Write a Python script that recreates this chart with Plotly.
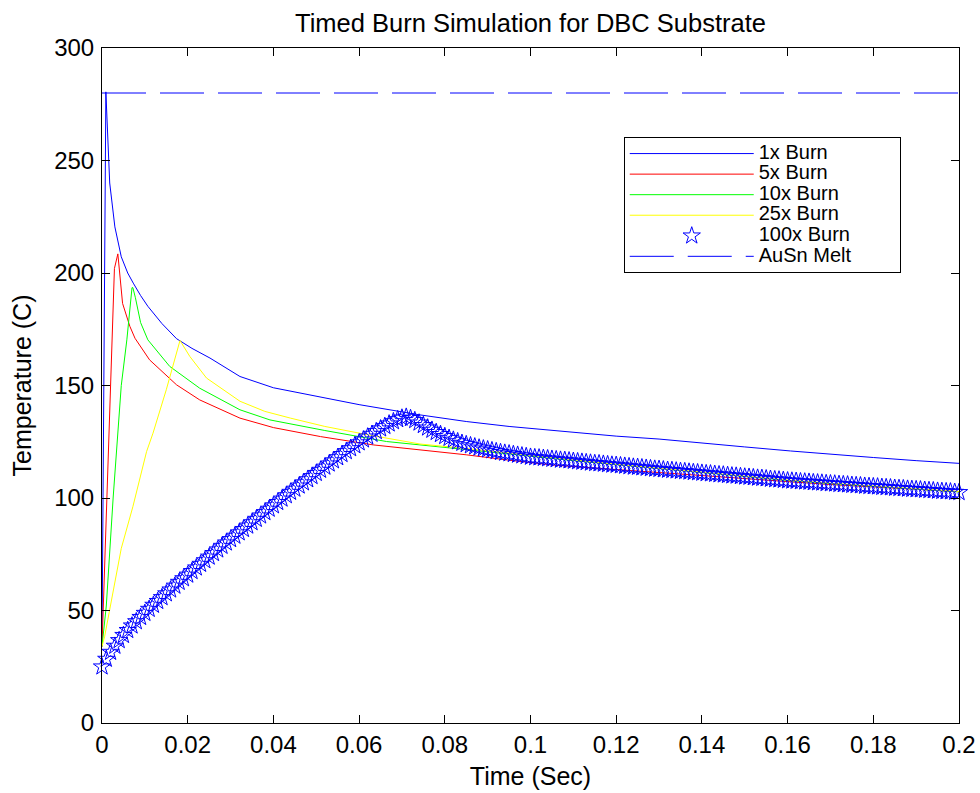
import numpy as np
import plotly.graph_objects as go

# ---------------- data ----------------
t_1x = [0, 0.0009, 0.0018, 0.003, 0.0045, 0.006, 0.0073, 0.009, 0.0107, 0.014, 0.0174,
        0.021, 0.0252, 0.0322, 0.040, 0.051, 0.060, 0.074, 0.085, 0.095, 0.1085, 0.12,
        0.13, 0.14, 0.15, 0.1607, 0.17, 0.18, 0.19, 0.2]
T_1x = [34, 280.5, 240, 220.5, 207.2, 200, 195.5, 190, 185.2, 177.5, 170.8,
        166.5, 162.2, 154, 149, 144.8, 141.5, 137, 134, 131.8, 129.5, 127.5,
        126.2, 124.6, 122.7, 120.9, 119.4, 118, 116.6, 115.4]

t_5x = [0, 0.0026, 0.0029, 0.0037, 0.0048, 0.0065, 0.0077, 0.0111, 0.0174, 0.0228,
        0.0322, 0.040, 0.051, 0.0633, 0.0742, 0.085, 0.095, 0.105, 0.11, 0.12, 0.13,
        0.14, 0.15, 0.16, 0.17, 0.18, 0.19, 0.2]
T_5x = [34, 190, 202, 208.5, 186.5, 176.3, 171, 161.4, 150.3, 143.6,
        135.5, 131.3, 127.3, 123.6, 121.4, 119.2, 116.8, 114.7, 114.0, 112.6, 111.2,
        109.9, 108.7, 107.3, 106.0, 104.9, 103.8, 102.8]

t_10x = [0, 0.001, 0.0026, 0.0045, 0.0058, 0.007, 0.0072, 0.0078, 0.009, 0.0107, 0.0158,
         0.0228, 0.0322, 0.0392, 0.052, 0.0664, 0.0742, 0.085, 0.09, 0.1, 0.11, 0.12,
         0.13, 0.14, 0.15, 0.16, 0.17, 0.18, 0.19, 0.2]
T_10x = [34, 52, 100, 150, 170.3, 193.5, 193.5, 189, 178, 170.3, 158.5,
         148.8, 139.2, 134.7, 130, 125.1, 123.6, 121.6, 120.7, 118.6, 116.6, 114.8,
         113.0, 111.2, 109.5, 107.8, 106.4, 105.1, 103.9, 102.7]

t_25x = [0, 0.0006, 0.0045, 0.0072, 0.0104, 0.0119, 0.015, 0.0182, 0.0205, 0.0244,
         0.0322, 0.038, 0.044, 0.052, 0.062, 0.0742, 0.085, 0.09, 0.1, 0.11, 0.12,
         0.13, 0.14, 0.15, 0.16, 0.17, 0.18, 0.19, 0.2]
T_25x = [34, 38.3, 77.6, 96.1, 120.6, 128.8, 148.1, 170, 162.9, 153.3,
         143, 138.5, 135.5, 131.8, 128.1, 124, 122, 121, 118.9, 116.8, 115.0,
         113.2, 111.4, 109.7, 108.0, 106.6, 105.3, 104.1, 102.9]

# 100x burn sampled every 1 ms from 0 to 0.2 s
t_100x = np.round(np.arange(201) * 0.001, 3)
T_100x = [
    25.0, 28.4, 31.5, 34.2, 36.7, 39.0, 41.2, 43.2, 45.1, 47.0,
    48.8, 50.6, 52.4, 54.1, 55.8, 57.5, 59.2, 60.9, 62.6, 64.2,
    65.8, 67.4, 69.0, 70.6, 72.2, 73.8, 75.4, 77.0, 78.6, 80.1,
    81.6, 83.1, 84.6, 86.1, 87.6, 89.1, 90.6, 92.1, 93.6, 95.1,
    96.6, 98.1, 99.6, 101.1, 102.6, 104.0, 105.4, 106.8, 108.2, 109.6,
    111.0, 112.4, 113.8, 115.2, 116.6, 118.0, 119.4, 120.7, 122.0, 123.3,
    124.6, 125.9, 127.2, 128.4, 129.6, 130.8, 131.9, 133.0, 134.0, 134.9,
    135.6, 136.0, 135.4, 134.5, 133.4, 132.3, 131.2, 130.2, 129.2, 128.3,
    127.4, 126.6, 125.8, 125.1, 124.4, 123.8, 123.3, 122.8, 122.3, 121.9,
    121.5, 121.1, 120.7, 120.3, 120.0, 119.7, 119.4, 119.1, 118.8, 118.5,
    118.2, 118.0, 117.9, 117.7, 117.5, 117.3, 117.1, 116.9, 116.8, 116.6,
    116.4, 116.2, 116.0, 115.8, 115.6, 115.4, 115.3, 115.1, 114.9, 114.7,
    114.6, 114.4, 114.2, 114.0, 113.8, 113.7, 113.5, 113.3, 113.1, 112.9,
    112.8, 112.6, 112.4, 112.3, 112.1, 111.9, 111.8, 111.6, 111.4, 111.3,
    111.1, 110.9, 110.8, 110.6, 110.4, 110.3, 110.1, 109.9, 109.8, 109.6,
    109.4, 109.3, 109.1, 108.9, 108.8, 108.6, 108.4, 108.2, 108.1, 107.9,
    107.7, 107.6, 107.5, 107.3, 107.2, 107.1, 106.9, 106.8, 106.7, 106.5,
    106.4, 106.3, 106.1, 106.0, 105.9, 105.7, 105.6, 105.5, 105.3, 105.2,
    105.1, 105.0, 104.8, 104.7, 104.6, 104.4, 104.3, 104.2, 104.0, 103.9,
    103.8, 103.7, 103.5, 103.4, 103.3, 103.1, 103.0, 102.9, 102.8, 102.6,
    102.5]

t_melt = [0, 0.2]
T_melt = [280, 280]

x_tickvals = [0, 0.02, 0.04, 0.06, 0.08, 0.1, 0.12, 0.14, 0.16, 0.18, 0.2]
x_ticktext = ["0", "0.02", "0.04", "0.06", "0.08", "0.1", "0.12", "0.14", "0.16", "0.18", "0.2"]
y_tickvals = [0, 50, 100, 150, 200, 250, 300]

names = ["1x Burn", "5x Burn", "10x Burn", "25x Burn", "100x Burn", "AuSn Melt"]

# ---------------- figure ----------------
FONT = "Liberation Sans, Arial, Helvetica, sans-serif"


def lname(s, pad=0):
    return '<span style="font-size:20px">' + s + "\u00a0" * pad + '</span>'


fig = go.Figure()
fig.add_trace(go.Scatter(x=t_1x, y=T_1x, mode="lines", name=lname(names[0]),
                         line=dict(color="#0000FF", width=1)))
fig.add_trace(go.Scatter(x=t_5x, y=T_5x, mode="lines", name=lname(names[1]),
                         line=dict(color="#FF0000", width=1)))
fig.add_trace(go.Scatter(x=t_10x, y=T_10x, mode="lines", name=lname(names[2]),
                         line=dict(color="#00FF00", width=1)))
fig.add_trace(go.Scatter(x=t_25x, y=T_25x, mode="lines", name=lname(names[3]),
                         line=dict(color="#FFFF00", width=1)))
fig.add_trace(go.Scatter(x=t_100x, y=T_100x, mode="markers", name=lname(names[4], 8),
                         cliponaxis=False,
                         marker=dict(symbol="star-open", size=13, color="#0000FF",
                                     line=dict(color="#0000FF", width=1))))
fig.add_trace(go.Scatter(x=t_melt, y=T_melt, mode="lines", name=lname(names[5]),
                         line=dict(color="#0000FF", width=1, dash="44px,14px")))

axis_common = dict(showline=True, linecolor="black", linewidth=1, mirror="ticks",
                   ticks="inside", ticklen=8, tickcolor="black", tickwidth=1,
                   showgrid=False, zeroline=False, automargin=False,
                   tickfont=dict(family=FONT, size=24, color="black"))

fig.update_layout(
    width=980, height=793,
    margin=dict(l=102, r=21, t=48, b=70),
    paper_bgcolor="white", plot_bgcolor="white",
    font=dict(family=FONT, color="black"),
    title=dict(text="Timed Burn Simulation for DBC Substrate",
               font=dict(family=FONT, size=25.5, color="black"),
               x=0.5, xref="paper", xanchor="center",
               y=1 - 23 / 793, yref="container", yanchor="middle"),
    xaxis=dict(range=[0, 0.2], tickvals=x_tickvals, ticktext=x_ticktext,
               title=dict(text="Time (Sec)", font=dict(family=FONT, size=25), standoff=10),
               ticklabelstandoff=0, **axis_common),
    yaxis=dict(range=[0, 300], tickvals=y_tickvals,
               title=dict(text="Temperature (C)", font=dict(family=FONT, size=25), standoff=15),
               ticklabelstandoff=2, **axis_common),
    legend=dict(x=0.6088, y=0.8677, xanchor="left", yanchor="top",
                bgcolor="white", bordercolor="black", borderwidth=1,
                font=dict(family=FONT, size=13.5, color="black"),
                itemwidth=124, tracegroupgap=0),
    showlegend=True,
)

fig.write_html("out.html")
